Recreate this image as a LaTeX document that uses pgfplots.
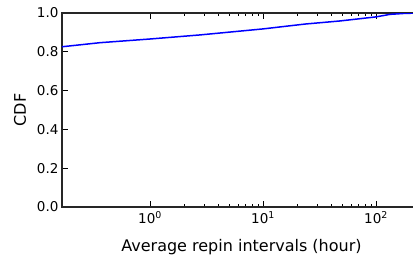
\documentclass[border=0pt]{standalone}
\usepackage{pgfplots}
\pgfplotsset{compat=1.18}
\usepackage{fontspec}
\setmainfont{DejaVu Sans}
\begin{document}
\begin{tikzpicture}
\begin{semilogxaxis}[
  scale only axis,
  width=359pt, height=194pt,
  xmin=0.1664, xmax=250,
  ymin=0, ymax=1,
  xtick={1,10,100},
  xticklabels={{10\textsuperscript{0}},{10\textsuperscript{1}},{10\textsuperscript{2}}},
  ytick={0,0.2,0.4,0.6,0.8,1.0},
  yticklabel style={/pgf/number format/.cd,fixed,fixed zerofill,precision=1,assume math mode=true},
  tick align=inside,
  major tick length=6pt,
  minor tick length=3pt,
  tick style={black, line width=0.7pt},
  axis line style={line width=1.5pt, black!85},
  ticklabel style={font=\fontsize{13.5}{15}\selectfont},
  xticklabel style={yshift=-1pt},
  label style={font=\fontsize{16}{18}\selectfont},
  xlabel={Average repin intervals (hour)},
  ylabel={CDF},
  xlabel style={at={(axis description cs:0.5,-0.2268)}, anchor=base},
  ylabel style={at={(axis description cs:-0.1003,0.5)}, anchor=base, rotate=0},
  clip=true,
]
\addplot[blue, line width=1.5pt] coordinates {
(0.1664,0.826) (0.361,0.847) (1,0.866) (2.77,0.887) (10,0.918) (23.5,0.943) (48,0.959) (100,0.980) (133,0.993) (180,0.998) (212,0.999) (250,1.0)
};
\end{semilogxaxis}
\pgfresetboundingbox
\useasboundingbox ([xshift=-62pt,yshift=-48pt]current axis.south west) rectangle ([xshift=351pt,yshift=13pt]current axis.north west);
\end{tikzpicture}
\end{document}
